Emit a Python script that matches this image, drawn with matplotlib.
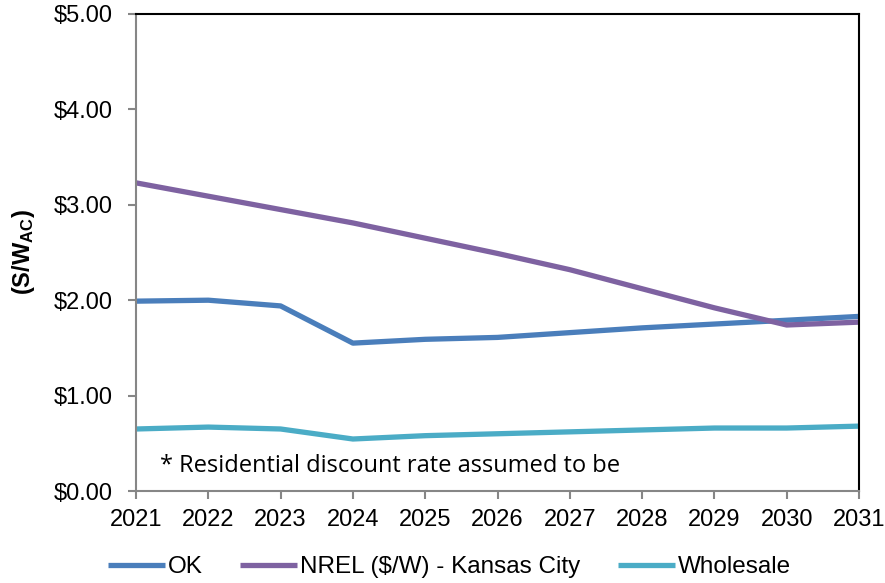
import matplotlib.pyplot as plt
from matplotlib.ticker import FuncFormatter

# --- data ---
years = [2021, 2022, 2023, 2024, 2025, 2026, 2027, 2028, 2029, 2030, 2031]
ok_cost = [1.99, 2.00, 1.94, 1.55, 1.59, 1.61, 1.66, 1.71, 1.75, 1.79, 1.83]
nrel_kc = [3.23, 3.09, 2.95, 2.81, 2.65, 2.49, 2.32, 2.12, 1.92, 1.74, 1.77]
wholesale = [0.65, 0.67, 0.65, 0.545, 0.58, 0.60, 0.62, 0.64, 0.66, 0.66, 0.68]

series_names = ["OK", "NREL ($/W) - Kansas City", "Wholesale"]
series_colors = ["#4A7EBB", "#7E62A1", "#4BACC6"]

plt.rcParams['font.family'] = ['Liberation Sans', 'DejaVu Sans']
plt.rcParams['mathtext.fontset'] = 'custom'
plt.rcParams['mathtext.rm'] = 'Liberation Sans'
plt.rcParams['mathtext.bf'] = 'Liberation Sans:bold'

fig = plt.figure(figsize=(8.85, 5.83), dpi=100)
ax = fig.add_axes([0.1537, 0.1578, 0.8169, 0.8182])

for vals, name, col in zip([ok_cost, nrel_kc, wholesale], series_names, series_colors):
    ax.plot(years, vals, color=col, lw=3.8, label=name, solid_capstyle='butt')

ax.set_xlim(2021, 2031)
ax.set_ylim(0, 5)
ax.set_xticks(years)
ax.set_yticks([0, 1, 2, 3, 4, 5])
ax.yaxis.set_major_formatter(FuncFormatter(lambda v, p: f"${v:.2f}"))
ax.tick_params(axis='both', labelsize=17, color='#868686', width=1.5)
ax.tick_params(axis='y', length=6, pad=11)
ax.tick_params(axis='x', length=6, pad=7)

for side in ['left', 'bottom']:
    ax.spines[side].set_color('#868686')
    ax.spines[side].set_linewidth(1.5)
for side in ['top', 'right']:
    ax.spines[side].set_color('black')
    ax.spines[side].set_linewidth(1.5)

ax.set_ylabel(r"$\mathbf{(S/W_{AC})}$", fontsize=17, labelpad=12)

ax.text(0.033, 0.04, "* Residential discount rate assumed to be",
        transform=ax.transAxes, fontsize=17, va='baseline',
        family=['Open Sans', 'DejaVu Sans'])

fig.legend(loc='center', ncol=3, frameon=False, fontsize=17.5,
           handlelength=2.35, handletextpad=0.12, columnspacing=1.55,
           bbox_to_anchor=(0.508, 0.027))

fig.savefig("out.png", dpi=100)
